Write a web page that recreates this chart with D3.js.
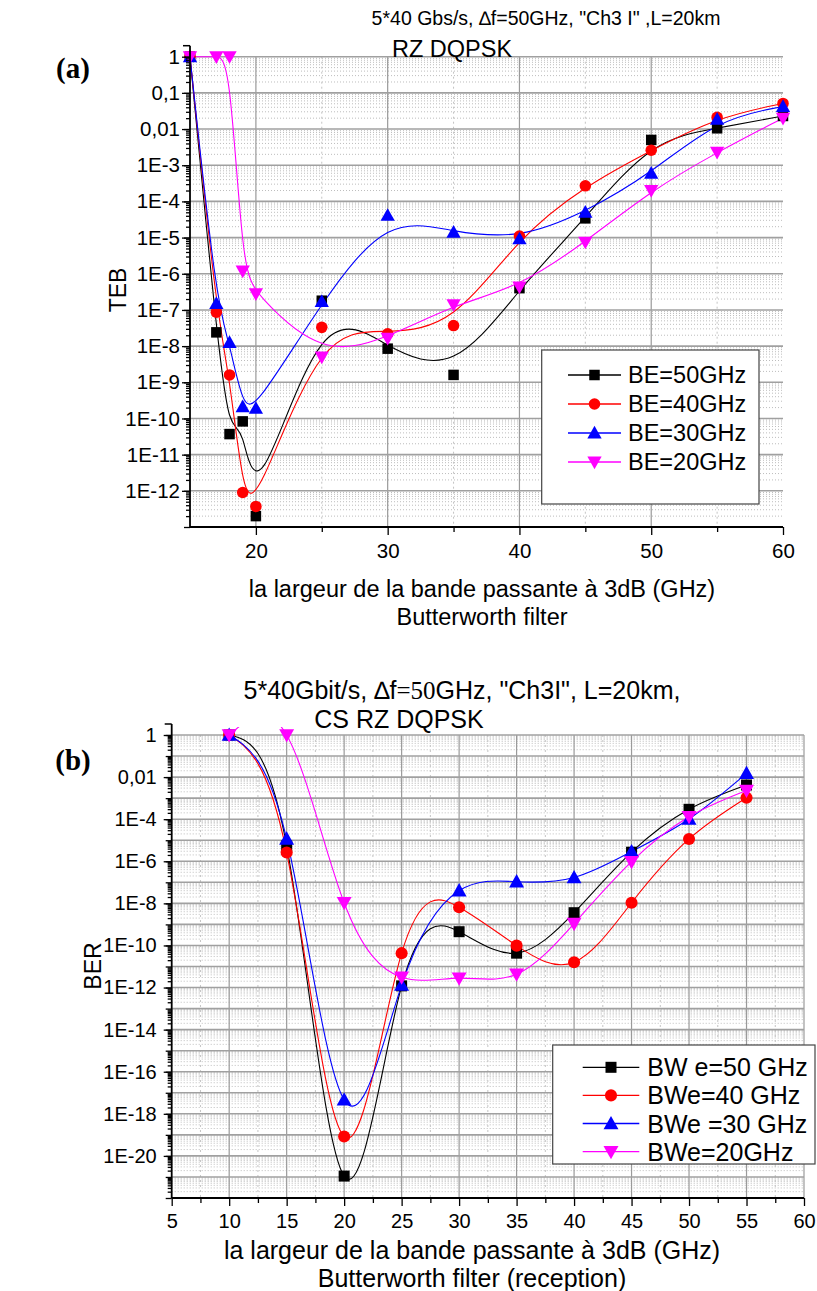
<!DOCTYPE html>
<html><head><meta charset="utf-8">
<script src="https://cdn.jsdelivr.net/npm/d3@7"></script>
<style>
body{margin:0;background:#fff}
svg{display:block}
text{font-family:"Liberation Sans",Arial,sans-serif;fill:#000}
</style>
</head><body>
<svg id="c" width="817" height="1291"></svg>
<script>
// ---------- Panel (a) data ----------
const xA = [15,17,18,19,20,25,30,35,40,45,50,55,60];
const be50 = [1,2.4e-8,3.7e-11,8.3e-11,2e-13,1.8e-7,8.5e-9,1.6e-9,4e-7,3.4e-5,5e-3,1.05e-2,0.023];
const be40 = [1,8.7e-8,1.6e-9,9e-13,3.7e-13,3.3e-8,2.2e-8,3.7e-8,1.1e-5,2.7e-4,2.6e-3,0.021,0.051];
const be30 = [1,1.5e-7,1.26e-8,2.1e-10,1.9e-10,1.7e-7,4.1e-5,1.4e-5,9.2e-6,5e-5,6e-4,0.0186,0.042];
const be20 = [1,1,1,1.2e-6,2.8e-7,5e-9,1.66e-8,1.4e-7,4.3e-7,7.5e-6,2e-4,2.3e-3,0.02];
const legendA = ["BE=50GHz","BE=40GHz","BE=30GHz","BE=20GHz"];
const yLabelsA = ["1","0,1","0,01","1E-3","1E-4","1E-5","1E-6","1E-7","1E-8","1E-9","1E-10","1E-11","1E-12"];
const xTicksA = [20,30,40,50,60];

// ---------- Panel (b) data ----------
const xB = [10,15,20,25,30,35,40,45,50,55];
const bw50 = [1,5.4e-6,1.1e-21,1.2e-12,4.5e-10,4.3e-11,3.6e-9,2.7e-6,2.95e-4,4.2e-3];
const bw40 = [1,2.6e-6,8.3e-20,4.3e-11,6.5e-9,9.8e-11,1.6e-11,1.07e-8,1.15e-5,1.05e-3];
const bw30 = [1,1.15e-5,4.6e-18,1.3e-12,4e-8,1.07e-7,1.7e-7,2.9e-6,1.02e-4,0.015];
const bw20 = [1,1,1.07e-8,3.1e-12,2.8e-12,4.3e-12,1.1e-9,9.6e-7,1.3e-4,2.3e-3];
const legendB = ["BW e=50 GHz","BWe=40 GHz","BWe =30 GHz","BWe=20GHz"];
const yLabelsB = ["1","0,01","1E-4","1E-6","1E-8","1E-10","1E-12","1E-14","1E-16","1E-18","1E-20"];
const xTicksB = [5,10,15,20,25,30,35,40,45,50,55,60];

const colors = ["#000000","#ff0000","#0000ff","#ff00ff"];
const shapes = ["square","circle","up","down"];

const svg = d3.select("#c");

function marker(g, shape, cx, cy, color, s){
  if(shape==="square"){
    g.append("rect").attr("x",cx-s*0.5).attr("y",cy-s*0.5).attr("width",s).attr("height",s).attr("fill",color);
  } else if(shape==="circle"){
    g.append("circle").attr("cx",cx).attr("cy",cy).attr("r",s*0.55).attr("fill",color);
  } else if(shape==="up"){
    const w=s*0.68,h=s*1.15;
    g.append("path").attr("d",`M${cx},${cy-h*0.6}L${cx+w},${cy+h*0.45}L${cx-w},${cy+h*0.45}Z`).attr("fill",color);
  } else {
    const w=s*0.68,h=s*1.15;
    g.append("path").attr("d",`M${cx},${cy+h*0.6}L${cx+w},${cy-h*0.45}L${cx-w},${cy-h*0.45}Z`).attr("fill",color);
  }
}

function panel(o){
  const x = d3.scaleLinear().domain(o.xDomain).range([o.left,o.right]);
  const y = d3.scaleLog().domain(o.yDomain).range([o.bottom,o.top]);
  const g = svg.append("g");
  const lo = Math.round(Math.log10(o.yDomain[0])), hi = Math.round(Math.log10(o.yDomain[1]));
  const minor=[]; for(let d=lo; d<hi; d++) for(let k=2;k<=9;k++) minor.push(k*Math.pow(10,d));
  const decades=[]; for(let d=hi; d>=lo; d--) decades.push(Math.pow(10,d));
  // minor horizontal grid
  g.append("g").selectAll("line").data(minor).join("line")
    .attr("x1",o.left).attr("x2",o.gridRight).attr("y1",d=>y(d)).attr("y2",d=>y(d))
    .attr("stroke","#bdbdbd").attr("stroke-width",1).attr("stroke-dasharray","1,2");
  // vertical grid
  g.append("g").selectAll("line").data(o.vMinor).join("line")
    .attr("x1",d=>x(d)).attr("x2",d=>x(d)).attr("y1",o.top).attr("y2",o.bottom)
    .attr("stroke","#c4c4c4").attr("stroke-width",1).attr("stroke-dasharray","2,3");
  g.append("g").selectAll("line").data(o.vMajor).join("line")
    .attr("x1",d=>x(d)).attr("x2",d=>x(d)).attr("y1",o.top).attr("y2",o.bottom)
    .attr("stroke","#9a9a9a").attr("stroke-width",1.2);
  // major horizontal grid
  g.append("g").selectAll("line").data(decades.filter(d=>d>o.yDomain[0])).join("line")
    .attr("x1",o.left).attr("x2",o.gridRight).attr("y1",d=>y(d)).attr("y2",d=>y(d))
    .attr("stroke","#a0a0a0").attr("stroke-width",1.6);

  // curves
  const clipId = "clip"+o.id;
  svg.append("defs").append("clipPath").attr("id",clipId).append("rect")
    .attr("x",o.left).attr("y",o.top-8).attr("width",o.right-o.left+10).attr("height",o.bottom-o.top+8);
  const line = d3.line().x(d=>x(d[0])).y(d=>y(d[1])).curve(o.curve);
  o.series.forEach((s,i)=>{
    g.append("path").attr("d",line(o.xs.map((xv,j)=>[xv,s[j]])))
      .attr("fill","none").attr("stroke",colors[i]).attr("stroke-width",1.1)
      .attr("clip-path",`url(#${clipId})`);
  });
  o.series.forEach((s,i)=>{
    const mg = g.append("g");
    o.xs.forEach((xv,j)=>marker(mg,shapes[i],x(xv),y(s[j]),colors[i],o.ms));
  });

  // axes
  const yAxis = g.append("g").attr("transform",`translate(${o.left},0)`)
    .call(d3.axisLeft(y).tickValues(o.yTickVals).tickFormat((d,i)=>o.yLabels[i]).tickSize(8).tickSizeOuter(0).tickPadding(o.yPad));
  yAxis.selectAll("text").attr("font-size",o.tickFont).attr("font-family","Liberation Sans, Arial, sans-serif");
  yAxis.select(".domain").remove();
  g.append("g").attr("transform",`translate(${o.left},0)`)
    .call(d3.axisLeft(y).tickValues(decades).tickFormat("").tickSize(6).tickSizeOuter(0))
    .select(".domain").remove();
  g.append("g").attr("transform",`translate(${o.left},0)`)
    .call(d3.axisLeft(y).tickValues(minor).tickFormat("").tickSize(4).tickSizeOuter(0))
    .select(".domain").remove();
  g.append("line").attr("x1",o.left).attr("x2",o.left).attr("y1",o.top-11).attr("y2",o.bottom)
    .attr("stroke","#000").attr("stroke-width",1.8);
  g.append("line").attr("x1",o.left-7).attr("x2",o.left).attr("y1",o.top-11).attr("y2",o.top-11)
    .attr("stroke","#000").attr("stroke-width",1.5);

  const xAxis = g.append("g").attr("transform",`translate(0,${o.bottom})`)
    .call(d3.axisBottom(x).tickValues(o.xTicks).tickFormat(d3.format("d")).tickSize(8).tickSizeOuter(0).tickPadding(8));
  xAxis.selectAll("text").attr("font-size",o.tickFont).attr("font-family","Liberation Sans, Arial, sans-serif");
  xAxis.select(".domain").remove();
  g.append("g").attr("transform",`translate(0,${o.bottom})`)
    .call(d3.axisBottom(x).tickValues(o.xMinorTicks).tickFormat("").tickSize(5).tickSizeOuter(0))
    .select(".domain").remove();
  g.append("line").attr("x1",o.left).attr("x2",o.right).attr("y1",o.bottom).attr("y2",o.bottom)
    .attr("stroke","#000").attr("stroke-width",1.8);
  g.selectAll(".tick line").attr("stroke","#000").attr("stroke-width",1.3);

  // legend
  const L = o.legend;
  g.append("rect").attr("x",L.x0).attr("y",L.y0).attr("width",L.x1-L.x0).attr("height",L.y1-L.y0)
    .attr("fill","#fff").attr("stroke","#444").attr("stroke-width",1.2);
  o.legendLabels.forEach((t,i)=>{
    const yy = L.rowY + i*L.dy;
    g.append("line").attr("x1",L.lx0).attr("x2",L.lx1).attr("y1",yy).attr("y2",yy)
      .attr("stroke",colors[i]).attr("stroke-width",1.3);
    marker(g,shapes[i],(L.lx0+L.lx1)/2,yy,colors[i],L.ms);
    g.append("text").attr("x",L.tx).attr("y",yy).attr("dy","0.36em")
      .attr("font-size",L.font).text(t);
  });
}

// ---------- Panel (a) ----------
panel({
  id:"A", xDomain:[15,60], yDomain:[1e-13,1], left:190, right:783, gridRight:783, top:56.7, bottom:527,
  xs:xA, series:[be50,be40,be30,be20], curve:d3.curveBasis, ms:10.5,
  vMajor:[20,30,40,50], vMinor:[25,35,45,55],
  yTickVals:d3.range(0,-13,-1).map(d=>Math.pow(10,d)), yLabels:yLabelsA, yPad:2,
  xTicks:xTicksA, xMinorTicks:[25,35,45,55], tickFont:20.5,
  legend:{x0:541.7,y0:350,x1:759,y1:504,rowY:375,dy:29,lx0:568,lx1:621,tx:628,font:23.5,ms:10.5},
  legendLabels:legendA
});

// ---------- Panel (b) ----------
panel({
  id:"B", xDomain:[5,60], yDomain:[1e-22,1], left:171.7, right:804, gridRight:804, top:735, bottom:1198,
  xs:xB, series:[bw50,bw40,bw30,bw20], curve:d3.curveNatural, ms:11,
  vMajor:[10,15,20,25,30,35,40,45,50,55,60], vMinor:d3.range(7.5,60,5),
  yTickVals:d3.range(0,-21,-2).map(d=>Math.pow(10,d)), yLabels:yLabelsB, yPad:7,
  xTicks:xTicksB, xMinorTicks:d3.range(7.5,60,5), tickFont:20,
  legend:{x0:552.7,y0:1045,x1:815,y1:1164,rowY:1067.3,dy:28.1,lx0:582.7,lx1:639.3,tx:647.3,font:25,ms:11},
  legendLabels:legendB
});

// ---------- Titles ----------
const T = svg.append("g");
T.append("text").attr("x",546).attr("y",25).attr("text-anchor","middle").attr("font-size",19.5)
  .text('5*40 Gbs/s, \u2206f=50GHz, "Ch3 I" ,L=20km');
T.append("text").attr("x",452).attr("y",57).attr("text-anchor","middle").attr("font-size",23.5).text("RZ DQPSK");
T.append("text").attr("x",73).attr("y",78).attr("text-anchor","middle").attr("font-size",29)
  .attr("font-weight","bold").style("font-family","Liberation Serif, Times New Roman, serif").text("(a)");
T.append("text").attr("transform","translate(126,290) rotate(-90)").attr("text-anchor","middle").attr("font-size",23).text("TEB");
T.append("text").attr("x",482).attr("y",597).attr("text-anchor","middle").attr("font-size",23.5)
  .text("la largeur de la bande passante à 3dB (GHz)");
T.append("text").attr("x",482).attr("y",625).attr("text-anchor","middle").attr("font-size",23.5).text("Butterworth filter");

const tb = T.append("text").attr("x",462).attr("y",699).attr("text-anchor","middle").attr("font-size",25);
tb.append("tspan").text('5*40Gbit/s, \u2206f');
tb.append("tspan").style("font-family","Liberation Serif, Times New Roman, serif").text("=50");
tb.append("tspan").text('GHz, "Ch3I", L=20km,');
T.append("text").attr("x",399).attr("y",728).attr("text-anchor","middle").attr("font-size",25).text("CS RZ DQPSK");
T.append("text").attr("x",73).attr("y",770).attr("text-anchor","middle").attr("font-size",29)
  .attr("font-weight","bold").style("font-family","Liberation Serif, Times New Roman, serif").text("(b)");
T.append("text").attr("transform","translate(101,966) rotate(-90)").attr("text-anchor","middle").attr("font-size",23).text("BER");
T.append("text").attr("x",472).attr("y",1259).attr("text-anchor","middle").attr("font-size",25)
  .text("la largeur de la bande passante à 3dB (GHz)");
T.append("text").attr("x",472).attr("y",1287).attr("text-anchor","middle").attr("font-size",25).text("Butterworth filter (reception)");
</script>
</body></html>
